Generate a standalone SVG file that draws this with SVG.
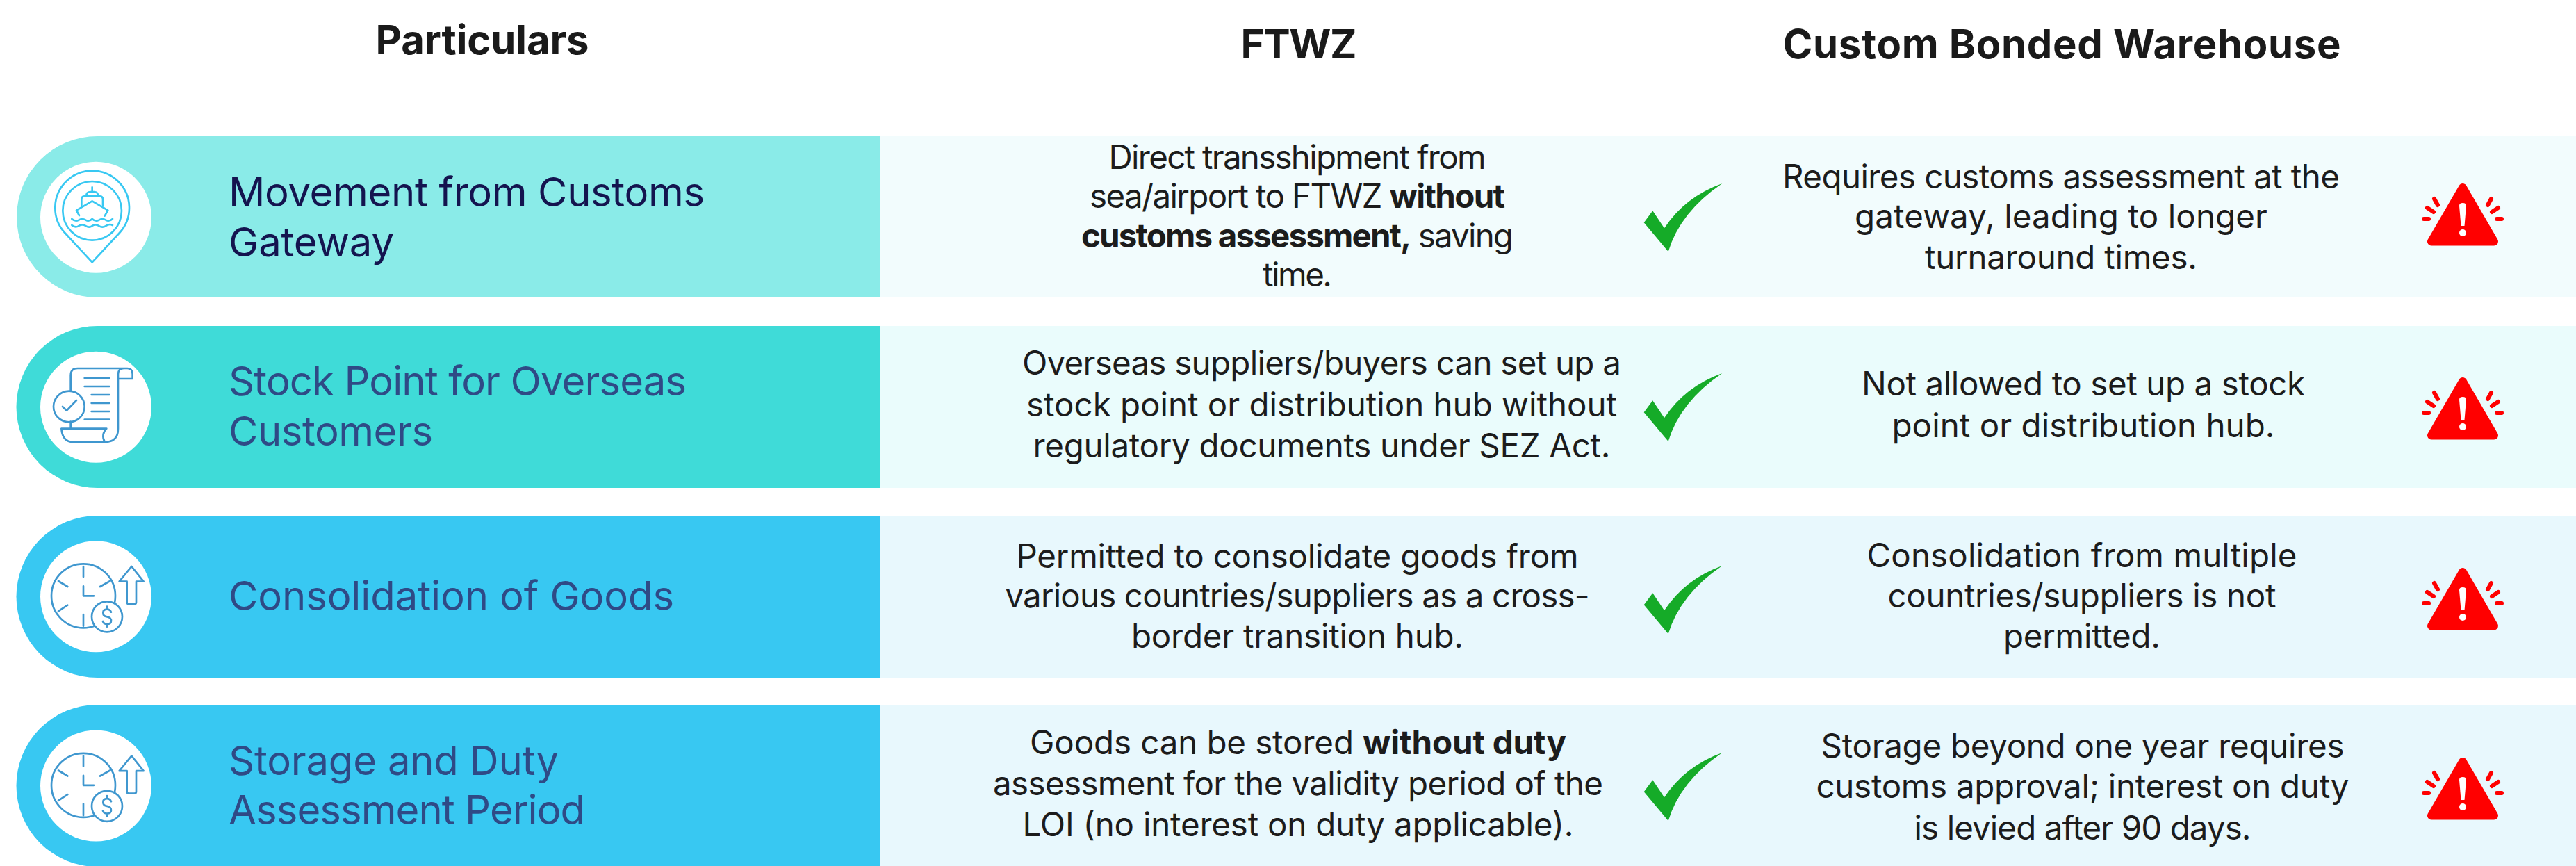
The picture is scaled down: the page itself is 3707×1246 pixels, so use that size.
<svg xmlns="http://www.w3.org/2000/svg" width="3707" height="1246" viewBox="0 0 3707 1246">
<style>
text{font-family:"Inter","Liberation Sans",sans-serif}
.h{font-size:58px;font-weight:650;fill:#1a1a1a;text-anchor:middle}
.l{font-size:58px;font-weight:400;fill:#2f4a86}
.b{font-size:47.5px;font-weight:400;fill:#1c1c1c;text-anchor:middle}
.s{font-weight:700}
.i1{fill:none;stroke:#38c8f2;stroke-width:8;stroke-linecap:round;stroke-linejoin:round}
.i2{fill:none;stroke:#3f97cf;stroke-width:8;stroke-linecap:round;stroke-linejoin:round}
</style>
<defs>
<path id="chk" fill="#15ab28" d="M2478.3,264 Q2425,283 2395,328.3 L2378.3,303.3 L2365.7,320.3 L2400.7,362 Q2418,305 2478.3,264 Z"/>
<g id="warn">
<path fill="#ff0000" stroke="#ff0000" stroke-width="12" stroke-linejoin="round" d="M3544,270 L3499,347.5 H3589 Z"/>
<path fill="#ffffff" d="M3539,296 Q3539,292 3544,292 Q3549,292 3549,296 L3546.5,325 H3541.5 Z"/>
<circle cx="3544" cy="335" r="5" fill="#ffffff"/>
<path fill="none" stroke="#ff0000" stroke-width="6" stroke-linecap="round" d="M3503,286 L3508,295 M3493,299 L3502,305 M3488,315 L3495,315 M3585,286 L3580,295 M3595,299 L3586,305 M3593,315 L3600,315"/>
</g>
<g id="clock">
<circle cx="270" cy="292" r="138"/>
<path d="M270,165 V210 M270,372 V422 M162,228 L202,252 M385,228 L342,252 M162,358 L202,332 M270,250 V292 H315"/>
<circle cx="372" cy="382" r="66" fill="#ffffff"/>
<path d="M390,362 Q385,350 372,350 Q355,350 355,365 Q355,380 372,382 Q390,385 390,400 Q390,414 372,414 Q358,414 354,402 M372,338 V350 M372,414 V425"/>
<path d="M478,165 L530,230 H498 V320 Q498,327 490,327 H466 Q458,327 458,320 V230 H425 Z"/>
</g>
</defs>
<g id="connectors"/>
<g id="headers">
<text class="h" x="694" y="78" textLength="307">Particulars</text>
<text class="h" x="1869" y="84" textLength="167">FTWZ</text>
<text class="h" x="2967" y="84" textLength="803">Custom Bonded Warehouse</text>
</g>
<g id="row1">
<rect x="1267" y="196" width="2440" height="232" fill="#f2fcfd"/>
<path d="M1267,196 H140 A116,116 0 0 0 140,428 H1267 Z" fill="#8aebe8"/>
<circle cx="138" cy="312.7" r="80" fill="#ffffff"/>
<g class="i1" transform="translate(30,220) scale(.3333)">
<path d="M308,472 L190,345 A160,160 0 1 1 426,345 Z"/>
<circle cx="308" cy="250" r="127"/>
<path d="M308,148 V165 M283,185 Q283,168 300,168 H316 Q333,168 333,185 M262,228 V200 Q262,187 275,187 H341 Q354,187 354,200 V228 M252,270 L240,248 L308,208 L376,248 L362,272 M220,285 Q235,298 250,290 Q265,280 280,290 Q295,298 308,285 Q322,298 337,290 Q352,280 367,290 Q382,298 396,285 M220,312 Q235,325 250,315 Q265,305 280,315 Q295,325 308,315 Q322,305 337,315 Q352,325 367,315 Q382,305 396,312"/>
</g>
<text class="l" x="329" y="297" style="fill:#14144f" textLength="685">Movement from Customs</text>
<text class="l" x="329" y="369" style="fill:#14144f" textLength="238">Gateway</text>
<text class="b" x="1867" y="243" textLength="543">Direct transshipment from</text>
<text class="b" x="1867" y="299" textLength="598">sea/airport to FTWZ <tspan class="s">without</tspan></text>
<text class="b" x="1867" y="356" textLength="622"><tspan class="s">customs assessment,</tspan> saving</text>
<text class="b" x="1867" y="412" textLength="100">time.</text>
<use href="#chk"/>
<text class="b" x="2966" y="271" textLength="802">Requires customs assessment at the</text>
<text class="b" x="2966" y="328" textLength="594">gateway, leading to longer</text>
<text class="b" x="2966" y="387" textLength="392">turnaround times.</text>
<use href="#warn"/>
</g>
<g id="row2">
<rect x="1267" y="469" width="2440" height="233" fill="#eafcfc"/>
<path d="M1267,469 H140 A116.5,116.5 0 0 0 140,702 H1267 Z" fill="#3fdbd8"/>
<circle cx="138" cy="585.7" r="80" fill="#ffffff"/>
<g class="i2" transform="translate(30,490) scale(.3333)">
<path d="M215,215 V150 Q215,120 245,120 H460 Q482,120 482,145 V165 H420 V145 Q420,120 445,120 M420,165 V380 Q420,438 362,438 H225 Q180,438 175,380 H370 Q345,405 362,438 M215,350 V380"/>
<circle cx="208" cy="285" r="67"/>
<path d="M180,285 L198,302 L240,258 M275,162 H382 M275,198 H382 M305,234 H382 M305,270 H382 M305,306 H382 M275,341 H382"/>
</g>
<text class="l" x="329" y="569" textLength="659">Stock Point for Overseas</text>
<text class="l" x="329" y="641" textLength="294">Customers</text>
<text class="b" x="1902" y="539" textLength="862">Overseas suppliers/buyers can set up a</text>
<text class="b" x="1902" y="599" textLength="850">stock point or distribution hub without</text>
<text class="b" x="1902" y="658" textLength="831">regulatory documents under SEZ Act.</text>
<use href="#chk" y="273"/>
<text class="b" x="2998" y="569" textLength="638">Not allowed to set up a stock</text>
<text class="b" x="2998" y="629" textLength="551">point or distribution hub.</text>
<use href="#warn" y="279"/>
</g>
<g id="row3">
<rect x="1267" y="742" width="2440" height="233" fill="#e8f8fd"/>
<path d="M1267,742 H140 A116.5,116.5 0 0 0 140,975 H1267 Z" fill="#38c8f2"/>
<circle cx="138" cy="858.3" r="80" fill="#ffffff"/>
<use class="i2" href="#clock" transform="translate(30,760) scale(.3333)"/>
<text class="l" x="329" y="878" textLength="641">Consolidation of Goods</text>
<text class="b" x="1867" y="817" textLength="809">Permitted to consolidate goods from</text>
<text class="b" x="1867" y="874" textLength="841">various countries/suppliers as a cross-</text>
<text class="b" x="1867" y="932" textLength="478">border transition hub.</text>
<use href="#chk" y="550"/>
<text class="b" x="2996" y="816" textLength="619">Consolidation from multiple</text>
<text class="b" x="2996" y="874" textLength="559">countries/suppliers is not</text>
<text class="b" x="2996" y="932" textLength="226">permitted.</text>
<use href="#warn" y="553"/>
</g>
<g id="row4">
<rect x="1267" y="1014" width="2440" height="232" fill="#e8f8fd"/>
<path d="M1267,1014 H140 A116.5,116.5 0 0 0 140,1247 H1267 Z" fill="#38c8f2"/>
<circle cx="138" cy="1130.5" r="80" fill="#ffffff"/>
<use class="i2" href="#clock" transform="translate(30,1032.5) scale(.3333)"/>
<text class="l" x="329" y="1115" textLength="475">Storage and Duty</text>
<text class="l" x="329" y="1186" textLength="513">Assessment Period</text>
<text class="b" x="1868" y="1085" textLength="772">Goods can be stored <tspan class="s">without duty</tspan></text>
<text class="b" x="1868" y="1144" textLength="878">assessment for the validity period of the</text>
<text class="b" x="1868" y="1203" textLength="793">LOI (no interest on duty applicable).</text>
<use href="#chk" y="819"/>
<text class="b" x="2997" y="1090" textLength="753">Storage beyond one year requires</text>
<text class="b" x="2997" y="1148" textLength="767">customs approval; interest on duty</text>
<text class="b" x="2997" y="1208" textLength="485">is levied after 90 days.</text>
<use href="#warn" y="826"/>
</g>
</svg>
